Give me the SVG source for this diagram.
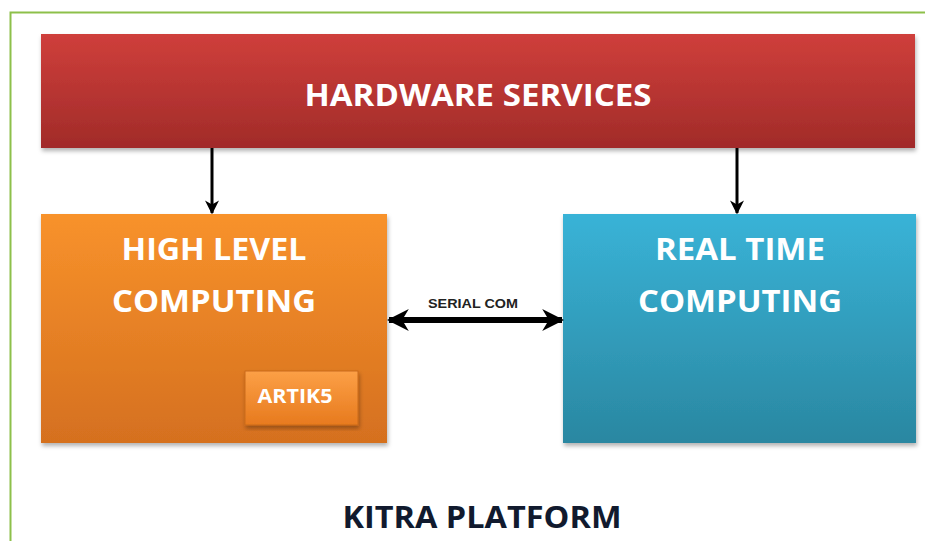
<svg xmlns="http://www.w3.org/2000/svg" width="925" height="541" viewBox="0 0 925 541">
<defs>
<linearGradient id="gRed" x1="0" y1="0" x2="0" y2="1"><stop offset="0" stop-color="#cf3f3b"/><stop offset="1" stop-color="#a12b29"/></linearGradient>
<linearGradient id="gOr" x1="0" y1="0" x2="0" y2="1"><stop offset="0" stop-color="#f8922b"/><stop offset="1" stop-color="#d5701f"/></linearGradient>
<linearGradient id="gBl" x1="0" y1="0" x2="0" y2="1"><stop offset="0" stop-color="#39b3d7"/><stop offset="1" stop-color="#2a87a1"/></linearGradient>
<linearGradient id="gBtn" x1="0" y1="0" x2="0" y2="1"><stop offset="0" stop-color="#fca046"/><stop offset="1" stop-color="#e77a1e"/></linearGradient>
<filter id="sh" x="-5%" y="-5%" width="110%" height="115%"><feDropShadow dx="1" dy="3" stdDeviation="2" flood-color="#000" flood-opacity="0.3"/></filter>
<marker id="ah" viewBox="0 0 10 10" refX="9" refY="5" markerWidth="14" markerHeight="14" orient="auto-start-reverse" markerUnits="userSpaceOnUse"><path d="M0,0 L10,5 L0,10 L3,5 Z" fill="#000"/></marker>
<marker id="ah2" viewBox="0 0 10 10" refX="9" refY="5" markerWidth="22" markerHeight="22" orient="auto-start-reverse" markerUnits="userSpaceOnUse"><path d="M0,0 L10,5 L0,10 L3,5 Z" fill="#000"/></marker>
</defs>
<style>
.t{font-family:"Open Sans","Liberation Sans",sans-serif;font-weight:bold;fill:#fff}
.c{stroke:#000;fill:none}
</style>
<rect width="925" height="541" fill="#fff"/>
<path d="M10.5,541 V12.5 H925" fill="none" stroke="#8dc04a" stroke-width="2"/>
<g id="hardware">
<rect x="41" y="34" width="874" height="114" fill="url(#gRed)" filter="url(#sh)"/>
<text class="t" x="478" y="106" font-size="31" text-anchor="middle" textLength="347" lengthAdjust="spacingAndGlyphs">HARDWARE SERVICES</text>
</g>
<g id="highlevel">
<rect x="41" y="214" width="346" height="229" fill="url(#gOr)" filter="url(#sh)"/>
<text class="t" x="214" y="260" font-size="31" text-anchor="middle" textLength="185" lengthAdjust="spacingAndGlyphs">HIGH LEVEL</text>
<text class="t" x="214" y="312" font-size="31" text-anchor="middle" textLength="204" lengthAdjust="spacingAndGlyphs">COMPUTING</text>
</g>
<g id="artik5">
<rect x="245" y="371" width="113" height="54" fill="url(#gBtn)" stroke="#c96a1c" stroke-width="1" filter="url(#sh)"/>
<text class="t" x="295" y="403" font-size="19" text-anchor="middle" textLength="75" lengthAdjust="spacingAndGlyphs">ARTIK5</text>
</g>
<g id="realtime">
<rect x="563" y="214" width="353" height="229" fill="url(#gBl)" filter="url(#sh)"/>
<text class="t" x="740" y="260" font-size="31" text-anchor="middle" textLength="170" lengthAdjust="spacingAndGlyphs">REAL TIME</text>
<text class="t" x="740" y="312" font-size="31" text-anchor="middle" textLength="204" lengthAdjust="spacingAndGlyphs">COMPUTING</text>
</g>
<g id="connectors">
<line class="c" x1="212" y1="148" x2="212" y2="213" stroke-width="3" marker-end="url(#ah)"/>
<line class="c" x1="737" y1="148" x2="737" y2="213" stroke-width="3" marker-end="url(#ah)"/>
<line class="c" x1="389" y1="320" x2="562" y2="320" stroke-width="6" marker-start="url(#ah2)" marker-end="url(#ah2)"/>
<text x="473" y="308" font-family="'Liberation Sans',sans-serif" font-weight="bold" font-size="13" text-anchor="middle" fill="#222" textLength="90" lengthAdjust="spacingAndGlyphs">SERIAL COM</text>
</g>
<text x="482" y="528" font-family="'Open Sans','Liberation Sans',sans-serif" font-weight="bold" font-size="31" fill="#111a2e" text-anchor="middle" textLength="279" lengthAdjust="spacingAndGlyphs">KITRA PLATFORM</text>
</svg>
